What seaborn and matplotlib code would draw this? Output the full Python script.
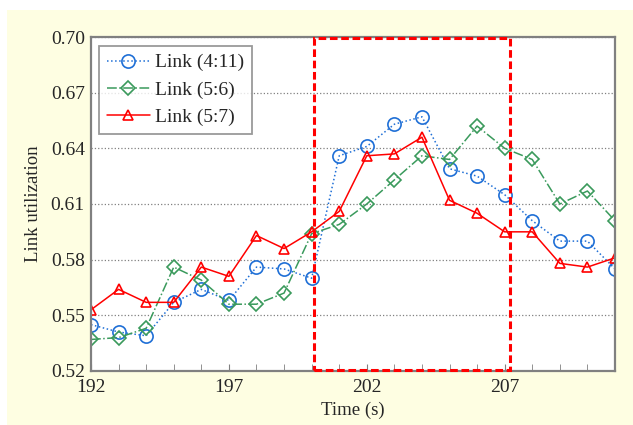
import matplotlib
matplotlib.use('Agg')
import matplotlib.pyplot as plt
from matplotlib.patches import Rectangle
from matplotlib.ticker import MultipleLocator
import numpy as np
import pandas as pd
import seaborn as sns

# data
time = list(range(192, 212))
link_4_11 = [0.545, 0.541, 0.539, 0.557, 0.564, 0.558, 0.576, 0.575, 0.570, 0.636,
             0.641, 0.653, 0.657, 0.629, 0.625, 0.615, 0.601, 0.590, 0.590, 0.575]
link_5_6 = [0.537, 0.538, 0.543, 0.576, 0.569, 0.556, 0.556, 0.562, 0.594, 0.599,
            0.610, 0.623, 0.636, 0.634, 0.652, 0.640, 0.634, 0.610, 0.617, 0.601]
link_5_7 = [0.553, 0.564, 0.557, 0.557, 0.576, 0.571, 0.593, 0.586, 0.595, 0.606,
            0.636, 0.637, 0.646, 0.612, 0.605, 0.595, 0.595, 0.578, 0.576, 0.581]
y_ticks = [0.52, 0.55, 0.58, 0.61, 0.64, 0.67, 0.70]
x_ticks = [192, 197, 202, 207]
highlight = (200.1, 207.2)

df = pd.DataFrame({'time': time, 'Link (4:11)': link_4_11,
                   'Link (5:6)': link_5_6, 'Link (5:7)': link_5_7})

sns.set_style('white')
plt.rcParams['font.family'] = ['Liberation Serif', 'DejaVu Serif']

fig = plt.figure(figsize=(6.33, 4.25), dpi=100)
fig.patch.set_facecolor('white')
fig.patches.append(Rectangle((7 / 633, 0), 1, 1 - 10 / 425, transform=fig.transFigure,
                             facecolor='#fefee2', edgecolor='none', zorder=-10))
ax = fig.add_axes([91 / 633, 1 - 371 / 425, (615 - 91) / 633, (371 - 37) / 425])
ax.set_facecolor('white')

styles = [
    ('Link (4:11)', '#1f6fd6', ':', 'o', 9.5),
    ('Link (5:6)', '#3a9a5c', '-.', 'D', 7),
    ('Link (5:7)', '#ff0000', '-', '^', 7.5),
]
for name, color, ls, mk, ms in styles:
    sns.lineplot(data=df, x='time', y=name, ax=ax, color=color, linestyle=ls,
                 linewidth=1.1, marker=mk, markersize=ms, markerfacecolor='none',
                 markeredgecolor=color, markeredgewidth=1.2, label=name)

ax.add_patch(Rectangle((highlight[0], 0.5205), highlight[1] - highlight[0], 0.179,
                       fill=False, edgecolor='#ff0000', linestyle=(0, (2.5, 1.2)),
                       linewidth=2.2, zorder=5, clip_on=False))

ax.set_xlim(192, 211)
ax.set_ylim(0.52, 0.70)
ax.set_xticks(x_ticks)
ax.xaxis.set_minor_locator(MultipleLocator(1))
ax.set_yticks(y_ticks)
ax.set_yticklabels([f'{v:.2f}' for v in y_ticks])
ax.yaxis.grid(True, linestyle=':', color='#808080', linewidth=0.9)
ax.xaxis.grid(False)
ax.tick_params(axis='x', which='both', direction='in', bottom=True, color='#808080',
               labelsize=14, pad=6, length=5)
ax.tick_params(axis='y', left=False, labelsize=14, pad=1)
for s in ax.spines.values():
    s.set_color('#808080')
    s.set_linewidth(1.6)

ax.set_xlabel('Time (s)', fontsize=13.5, labelpad=4)
ax.set_ylabel('Link utilization', fontsize=13.5, labelpad=6)

leg = ax.legend(loc='upper left', fontsize=14, frameon=True, fancybox=False,
                edgecolor='#808080', handlelength=2.2, borderpad=0.4,
                labelspacing=0.5, handletextpad=0.3, borderaxespad=0,
                bbox_to_anchor=(8 / 524, 1 - 9 / 334))
leg.get_frame().set_linewidth(1.3)

fig.savefig('out.png', dpi=100, facecolor=fig.get_facecolor())
